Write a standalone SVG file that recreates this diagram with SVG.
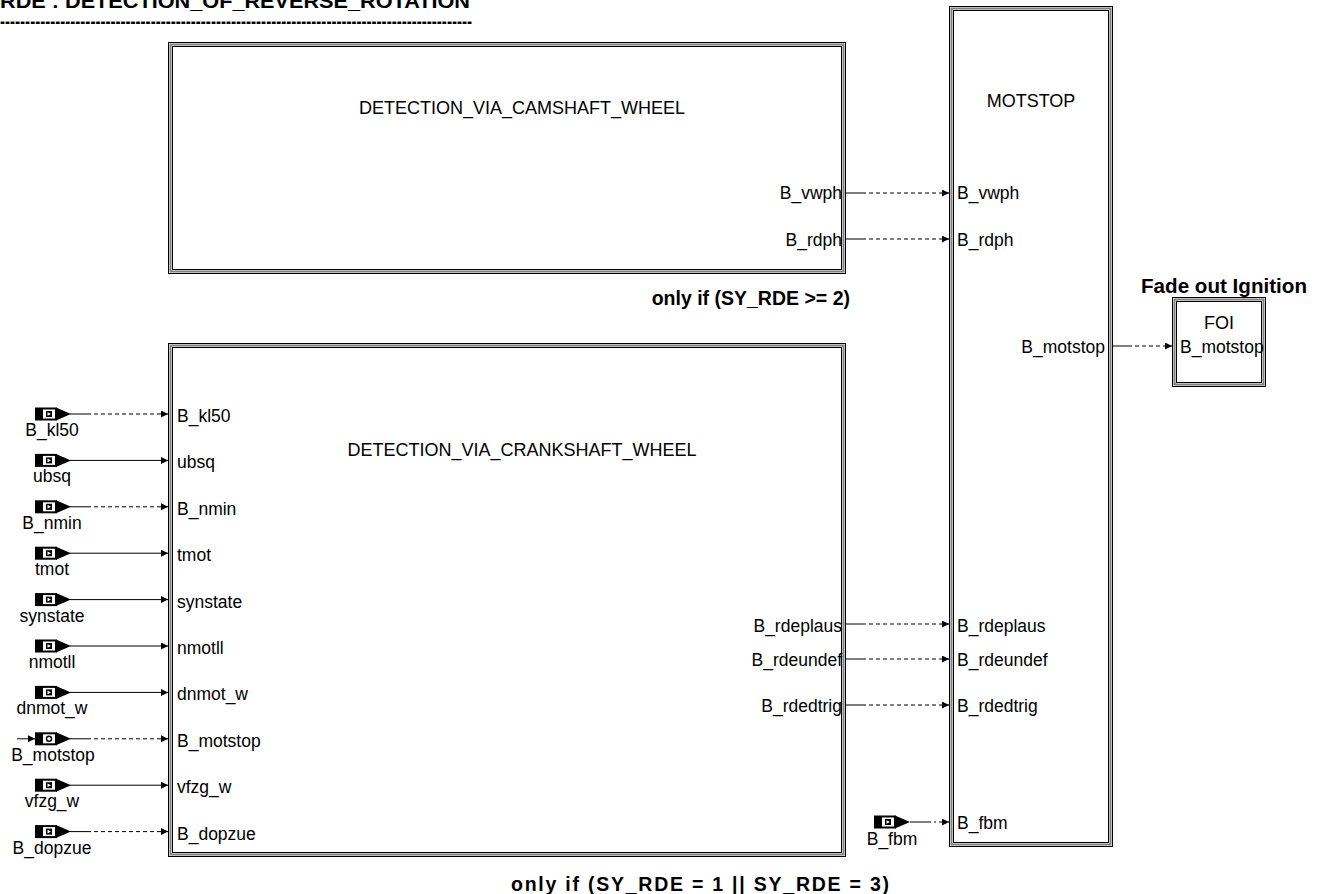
<svg xmlns="http://www.w3.org/2000/svg" width="1320" height="894" viewBox="0 0 1320 894">
<style>
text{font-family:"Liberation Sans",Arial,sans-serif;font-size:17.5px;fill:#000}
.b{font-weight:bold;font-size:19.5px}
.t{font-size:18px}
.o1{fill:none;stroke:#000;stroke-width:1}
.o2{fill:none;stroke:#808080;stroke-width:2}
.o3{fill:none;stroke:#000;stroke-width:1}
.s{stroke:#000;stroke-width:1;fill:none}
.d{stroke:#000;stroke-width:1;fill:none;stroke-dasharray:4,3}
.dd{stroke:#000;stroke-width:1;fill:none;stroke-dasharray:6,3,2,3}
.m{text-anchor:middle}
.e{text-anchor:end}
</style>
<defs>
<marker id="ah" markerUnits="userSpaceOnUse" markerWidth="8" markerHeight="8" refX="7" refY="3.5" orient="auto">
<path d="M0,0 L7,3.5 L0,7 z" fill="#000"/>
</marker>
<g id="inport">
<rect x="35" y="-6.5" width="22" height="13" fill="#000"/>
<rect x="43" y="-4.5" width="12" height="9" fill="#fff"/>
<rect x="46" y="-3" width="6" height="6" fill="#000"/>
<path d="M47.5,-1.8 L51,0 L47.5,1.8 z" fill="#fff"/>
<path d="M56,-6.5 L71,0 L56,6.5 z" fill="#000"/>
</g>
<g id="inport2">
<rect x="35" y="-6.5" width="22" height="13" fill="#000"/>
<rect x="43" y="-4.5" width="12" height="9" fill="#fff"/>
<circle cx="49" cy="0" r="2.5" fill="#fff" stroke="#000" stroke-width="1.4"/>
<path d="M56,-6.5 L71,0 L56,6.5 z" fill="#000"/>
</g>
</defs>
<rect width="1320" height="894" fill="#fff"/>

<g id="title">
<text class="b" x="0" y="8" textLength="470" lengthAdjust="spacingAndGlyphs">RDE : DETECTION_OF_REVERSE_ROTATION</text>
<text class="b" x="0" y="28" textLength="472" lengthAdjust="spacingAndGlyphs">----------------------------------------------------------------------------------------------</text>
</g>

<g id="camshaft">
<rect class="o1" x="168.5" y="42.5" width="677" height="231"/>
<rect class="o2" x="170.5" y="44.5" width="673" height="227"/>
<rect class="o3" x="172.5" y="46.5" width="669" height="223"/>
<text class="t m" x="522" y="114">DETECTION_VIA_CAMSHAFT_WHEEL</text>
<text class="e" x="842" y="199">B_vwph</text>
<text class="e" x="842" y="246">B_rdph</text>
<text class="b e" x="850" y="305">only if (SY_RDE &gt;= 2)</text>
</g>

<g id="crankshaft">
<rect class="o1" x="168.5" y="343.5" width="677" height="513"/>
<rect class="o2" x="170.5" y="345.5" width="673" height="509"/>
<rect class="o3" x="172.5" y="347.5" width="669" height="505"/>
<text class="t m" x="522" y="456">DETECTION_VIA_CRANKSHAFT_WHEEL</text>
<text x="177" y="422">B_kl50</text>
<text x="177" y="468">ubsq</text>
<text x="177" y="515">B_nmin</text>
<text x="177" y="561">tmot</text>
<text x="177" y="608">synstate</text>
<text x="177" y="654">nmotll</text>
<text x="177" y="700">dnmot_w</text>
<text x="177" y="747">B_motstop</text>
<text x="177" y="793">vfzg_w</text>
<text x="177" y="840">B_dopzue</text>
<text class="e" x="842" y="632">B_rdeplaus</text>
<text class="e" x="842" y="666">B_rdeundef</text>
<text class="e" x="842" y="712">B_rdedtrig</text>
<text class="b" x="511" y="891" textLength="378" lengthAdjust="spacing">only if (SY_RDE = 1 || SY_RDE = 3)</text>
</g>

<g id="motstop">
<rect class="o1" x="949.5" y="6.5" width="163" height="840"/>
<rect class="o2" x="951.5" y="8.5" width="159" height="836"/>
<rect class="o3" x="953.5" y="10.5" width="155" height="832"/>
<text class="t m" x="1031" y="107">MOTSTOP</text>
<text x="957" y="199">B_vwph</text>
<text x="957" y="246">B_rdph</text>
<text class="e" x="1105" y="353">B_motstop</text>
<text x="957" y="632">B_rdeplaus</text>
<text x="957" y="666">B_rdeundef</text>
<text x="957" y="712">B_rdedtrig</text>
<text x="957" y="829">B_fbm</text>
</g>

<g id="foi">
<text class="b" x="1141" y="293" textLength="166" lengthAdjust="spacingAndGlyphs">Fade out Ignition</text>
<rect class="o1" x="1172.5" y="297.5" width="93" height="89"/>
<rect class="o2" x="1174.5" y="299.5" width="89" height="85"/>
<rect class="o3" x="1176.5" y="301.5" width="85" height="81"/>
<text class="t m" x="1219" y="329">FOI</text>
<text x="1180" y="353">B_motstop</text>
</g>

<g id="inputs">
<use href="#inport" transform="translate(0,414)"/>
<text class="m" x="52" y="436">B_kl50</text>
<use href="#inport" transform="translate(0,460.4)"/>
<text class="m" x="52" y="482">ubsq</text>
<use href="#inport" transform="translate(0,506.8)"/>
<text class="m" x="52" y="529">B_nmin</text>
<use href="#inport" transform="translate(0,553.2)"/>
<text class="m" x="52" y="575">tmot</text>
<use href="#inport" transform="translate(0,599.6)"/>
<text class="m" x="52" y="622">synstate</text>
<use href="#inport" transform="translate(0,646)"/>
<text class="m" x="52" y="668">nmotll</text>
<use href="#inport" transform="translate(0,692.4)"/>
<text class="m" x="52" y="714">dnmot_w</text>
<use href="#inport2" transform="translate(0,738.8)"/>
<text class="m" x="53" y="761">B_motstop</text>
<use href="#inport" transform="translate(0,785.2)"/>
<text class="m" x="52" y="807">vfzg_w</text>
<use href="#inport" transform="translate(0,831.6)"/>
<text class="m" x="52" y="854">B_dopzue</text>
<use href="#inport" transform="translate(839,822)"/>
<text class="m" x="892" y="845">B_fbm</text>
</g>

<g id="connectors">
<line class="s" x1="70" y1="414" x2="87" y2="414"/>
<line class="d" x1="87" y1="414" x2="168" y2="414" marker-end="url(#ah)"/>
<line class="s" x1="70" y1="460.4" x2="168" y2="460.4" marker-end="url(#ah)"/>
<line class="s" x1="70" y1="506.8" x2="87" y2="506.8"/>
<line class="d" x1="87" y1="506.8" x2="168" y2="506.8" marker-end="url(#ah)"/>
<line class="s" x1="70" y1="553.2" x2="168" y2="553.2" marker-end="url(#ah)"/>
<line class="s" x1="70" y1="599.6" x2="168" y2="599.6" marker-end="url(#ah)"/>
<line class="s" x1="70" y1="646" x2="168" y2="646" marker-end="url(#ah)"/>
<line class="s" x1="70" y1="692.4" x2="168" y2="692.4" marker-end="url(#ah)"/>
<line class="s" x1="17" y1="738.8" x2="35" y2="738.8" marker-end="url(#ah)"/>
<line class="s" x1="70" y1="738.8" x2="87" y2="738.8"/>
<line class="d" x1="87" y1="738.8" x2="168" y2="738.8" marker-end="url(#ah)"/>
<line class="s" x1="70" y1="785.2" x2="168" y2="785.2" marker-end="url(#ah)"/>
<line class="s" x1="70" y1="831.6" x2="87" y2="831.6"/>
<line class="d" x1="87" y1="831.6" x2="168" y2="831.6" marker-end="url(#ah)"/>

<line class="s" x1="846" y1="193" x2="862" y2="193"/>
<line class="d" x1="862" y1="193" x2="949" y2="193" marker-end="url(#ah)"/>
<line class="s" x1="846" y1="239" x2="862" y2="239"/>
<line class="d" x1="862" y1="239" x2="949" y2="239" marker-end="url(#ah)"/>
<line class="s" x1="846" y1="624" x2="862" y2="624"/>
<line class="d" x1="862" y1="624" x2="949" y2="624" marker-end="url(#ah)"/>
<line class="s" x1="846" y1="659" x2="862" y2="659"/>
<line class="d" x1="862" y1="659" x2="949" y2="659" marker-end="url(#ah)"/>
<line class="s" x1="846" y1="705" x2="862" y2="705"/>
<line class="d" x1="862" y1="705" x2="949" y2="705" marker-end="url(#ah)"/>
<line class="s" x1="910" y1="822" x2="925" y2="822"/>
<line class="dd" x1="925" y1="822" x2="949" y2="822" marker-end="url(#ah)"/>
<line class="s" x1="1113" y1="346" x2="1128" y2="346"/>
<line class="d" x1="1128" y1="346" x2="1172" y2="346" marker-end="url(#ah)"/>
</g>
</svg>
